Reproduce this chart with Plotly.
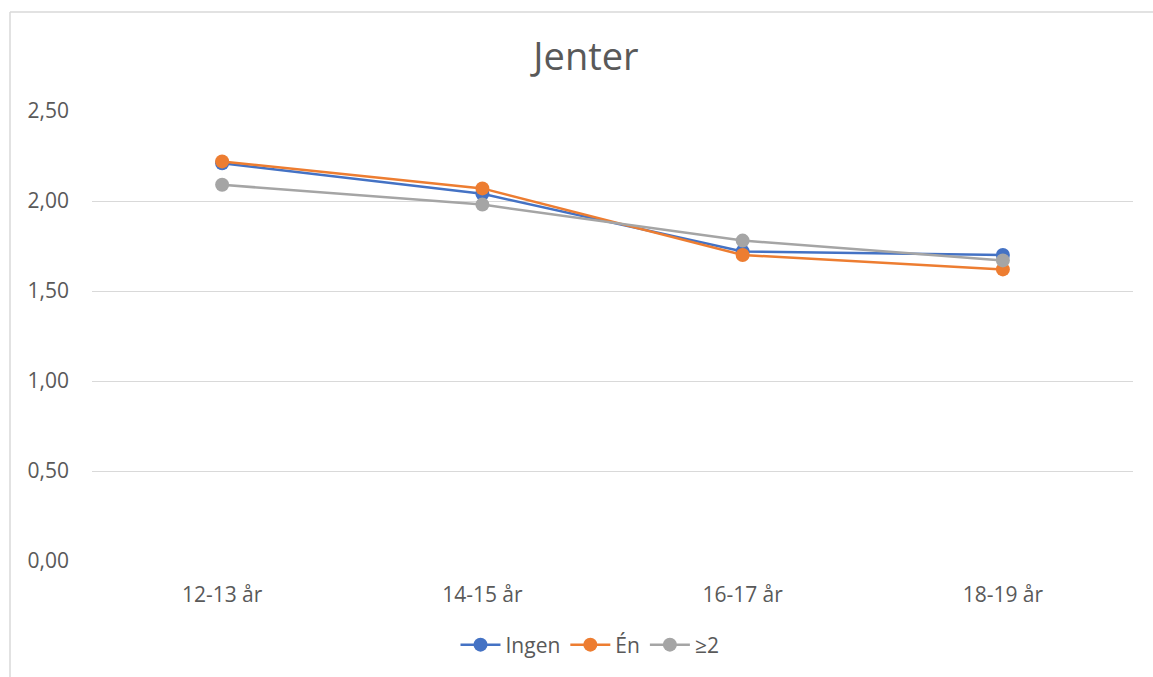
import plotly.graph_objects as go

# Age groups and mean scores for girls, split into three groups (Ingen / Én / ≥2)
categories = ["12-13 år", "14-15 år", "16-17 år", "18-19 år"]
ingen = [2.21, 2.04, 1.72, 1.70]
en = [2.22, 2.07, 1.70, 1.62]
to_pluss = [2.09, 1.98, 1.78, 1.67]

series_names = ["Ingen", "Én", "≥2"]
series_colors = ["#4472C4", "#ED7D31", "#A5A5A5"]
y_ticks = [0, 0.5, 1.0, 1.5, 2.0, 2.5]
y_tick_text = ["0,00", "0,50", "1,00", "1,50", "2,00", "2,50"]

W, H = 1153, 677
L, R, T, B = 92, 20, 111, 116

fig = go.Figure()
for name, vals, col in zip(series_names, [ingen, en, to_pluss], series_colors):
    fig.add_trace(go.Scatter(
        x=categories, y=vals, name=name, mode="lines+markers",
        line=dict(color=col, width=2.5),
        marker=dict(color=col, size=14, symbol="circle"),
    ))

font_family = "Open Sans, Noto Sans, sans-serif"
text_color = "#595959"
grid_color = "#D9D9D9"

# chart-area frame (left and top edges)
pw, ph = W - L - R, H - T - B
x0 = (10 - L) / pw
y0 = (H - B - 12) / ph
fig.add_shape(type="line", xref="paper", yref="paper", x0=x0, x1=(W - L) / pw + 0.01,
              y0=y0, y1=y0, line=dict(color=grid_color, width=1.5))
fig.add_shape(type="line", xref="paper", yref="paper", x0=x0, x1=x0,
              y0=y0, y1=-B / ph - 0.05, line=dict(color=grid_color, width=1.5))

fig.update_layout(
    width=W, height=H,
    margin=dict(l=L, r=R, t=T, b=B, pad=0),
    paper_bgcolor="white", plot_bgcolor="white",
    font=dict(family=font_family, color=text_color, size=21),
    title=dict(text="Jenter", x=(586 - L) / pw, xref="paper", xanchor="center",
               y=1 - 57 / H, yanchor="middle",
               font=dict(size=38, color=text_color, family=font_family)),
    xaxis=dict(
        type="category", range=[-0.5, 3.5], showgrid=False, zeroline=False,
        showline=False, ticks="", ticklabelstandoff=19,
        tickfont=dict(size=21, color=text_color),
    ),
    yaxis=dict(
        range=[0, 2.5], tickvals=y_ticks, ticktext=y_tick_text,
        showgrid=True, gridcolor=grid_color, gridwidth=1.3,
        zeroline=False, showline=False, ticks="", ticklabelstandoff=22,
        tickfont=dict(size=21, color=text_color),
    ),
    legend=dict(orientation="h", x=(590 - L) / pw, xanchor="center",
                y=-(645 - (H - B)) / ph, yanchor="middle",
                font=dict(size=21, color=text_color), itemwidth=40),
    showlegend=True,
)

fig.write_html("out.html")
